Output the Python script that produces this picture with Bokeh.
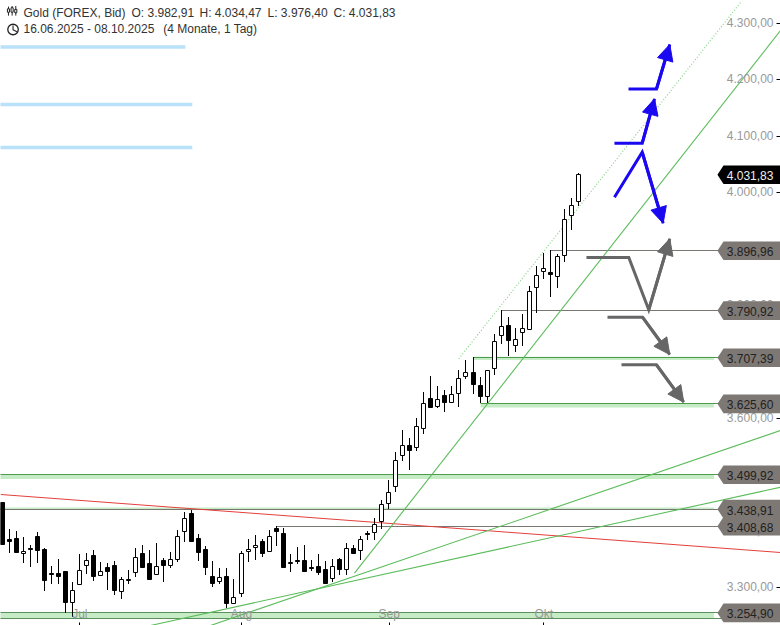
import math
from bokeh.plotting import figure
from bokeh.models import LinearAxis, FixedTicker, Range1d, Arrow, NormalHead, ColumnDataSource
from bokeh.core.properties import value
from bokeh.embed import file_html
from bokeh.resources import INLINE

FONT = "Liberation Sans"

opens = [3451,3385,3387,3359,3369,3390,3367,3325,3325,3328,3272,3303,3337,3357,3319,3335,3339,3291,3312,3324,3360,3343,3322,3348,3338,3347,3397,3431,3387,
         3367,3320,3308,3320,3270,3288,3362,3370,3382,3362,3405,3396,3340,3348,3348,3335,3337,3332,3315,3350,3331,3370,3364,3396,3395,3416,
         3447,3477,3532,3551,3546,3581,3635,3619,3640,3626,3643,3672,3681,3658,3636,3686,
         3745,3764,3727,3750,3755,3831,3858,3858,3849,3886,3957,3982.91]
highs = [3451,3403,3399,3389,3375,3398,3369,3337,3350,3328,3309,3358,3360,3366,3344,3343,3346,3318,3330,3369,3375,3366,3378,3351,3362,3401,3433,3437,3394,
         3373,3346,3334,3334,3314,3364,3385,3392,3385,3401,3408,3405,3359,3371,3375,3348,3359,3346,3350,3351,3378,3375,3390,3399,3422,3454,
         3489,3539,3578,3564,3599,3645,3674,3656,3649,3656,3684,3702,3707,3672,3684,3749,
         3791,3778,3760,3784,3833,3870,3893,3897,3890,3970,3989,4034.47]
lows = [3374,3361,3361,3343,3335,3343,3292,3306,3306,3253,3247,3303,3323,3311,3319,3295,3285,3278,3306,3318,3334,3313,3322,3308,3333,3345,3379,3379,3346,
        3321,3300,3306,3262,3270,3282,3344,3348,3353,3362,3373,3334,3327,3341,3327,3328,3321,3305,3309,3321,3321,3359,3348,3383,3383,3403,
        3439,3468,3523,3507,3541,3572,3617,3617,3610,3626,3620,3668,3642,3627,3626,3676,
        3731,3710,3717,3727,3755,3785,3846,3814,3830,3877,3933,3976.40]
closes = [3374,3380,3361,3364,3366,3363,3311,3322,3317,3272,3294,3331,3347,3318,3328,3327,3292,3314,3315,3354,3334,3313,3338,3338,3349,3390,3422,3379,3361,
          3334,3305,3317,3270,3282,3361,3367,3374,3359,3390,3398,3334,3344,3346,3327,3332,3325,3305,3337,3330,3370,3359,3385,3393,3411,3447,
          3468,3526,3551,3541,3585,3627,3617,3634,3626,3642,3670,3681,3658,3636,3684,3737,
          3762,3736,3739,3759,3824,3853,3865,3854,3886,3952,3977,4031.83]

y_ticks = [3300, 3400, 3500, 3600, 3700, 3800, 3900, 4000, 4100, 4200, 4300]
y_tick_labels = ["3.300,00","3.400,00","3.500,00","3.600,00","3.700,00","3.800,00","3.900,00","4.000,00","4.100,00","4.200,00","4.300,00"]
x_ticks = [11, 34, 55, 77]
x_tick_labels = ["Jul", "Aug", "Sep", "Okt"]

level_values = [3896.96, 3790.92, 3707.39, 3625.60, 3499.92, 3438.91, 3408.68, 3254.90]
level_labels = ["3.896,96","3.790,92","3.707,39","3.625,60","3.499,92","3.438,91","3.408,68","3.254,90"]
level_starts = [78, 71, 67, 68, -2, -2, 39, -2]
level_colors = ["#7a7672","#7a7672","#4e9a4e","#4e9a4e","#4e9a4e","#7a7672","#7a7672","#5f8f5f"]
band_tops = [None, None, 3709, 3626.2, 3499.9, 3441.8, None, 3254.9]
band_bottoms = [None, None, 3703.4, 3619.1, 3492.4, 3438.9, None, 3244.5]

red_x, red_y = [-0.28, 110.7], [3464.9, 3362.0]
green_lines_x = [[50.07, 110.67], [29.59, 110.67], [21.05, 110.67]]
green_lines_y = [[3325.4, 4287.6], [3232.6, 3578.4], [3232.6, 3477.8]]
dotted_x, dotted_y = [64.9, 104.98], [3705.5, 4337.2]

zone_values = [4258.3, 4156.4, 4080.1]
zone_ends = [26, 27, 27]

blue_paths = [([89.05, 93.03, 94.92], [4183.9, 4183.9, 4262.8]),
              ([87.05, 91.0, 92.75], [4087.8, 4087.8, 4166.5]),
              ([87.05, 91.0, 93.98], [3992.0, 4071.8, 3945.9])]
gray_paths = [([83.07, 89.09, 91.93, 94.92], [3885.1, 3885.1, 3792.4, 3918.3]),
              ([86.06, 91.04, 94.92], [3779.3, 3779.3, 3713.1]),
              ([88.05, 93.03, 96.91], [3694.9, 3694.9, 3628.5])]

last_value, last_label = 4031.83, "4.031,83"

header = [("Gold (FOREX, Bid)", 2.99, 4318.6), ("O: 3.982,91", 18.35, 4318.6), ("H: 4.034,47", 28.02, 4318.6),
          ("L: 3.976,40", 37.7, 4318.6), ("C: 4.031,83", 47.08, 4318.6),
          ("16.06.2025 - 08.10.2025", 2.99, 4289.4), ("(4 Monate, 1 Tag)", 22.86, 4289.4)]

x0, x1 = -0.2845, 110.67
y0, y1 = 3232.6, 4340.8
W, H = 780, 625

# helpers that snap plotted values to whole screen pixels, so thin lines stay crisp
def px_x(x): return (x - x0) / (x1 - x0) * W
def from_px_x(px): return x0 + px / W * (x1 - x0)
def px_y(v): return (y1 - v) / (y1 - y0) * H
def from_px_y(px): return y1 - px / H * (y1 - y0)
def snap_x(x): return from_px_x(math.floor(px_x(x)))
def snap_y(v): return from_px_y(round(px_y(v)))

p = figure(width=W, height=H, x_range=Range1d(x0, x1), y_range=Range1d(y0, y1),
           output_backend="svg", toolbar_location=None, min_border=0,
           x_axis_type=None, y_axis_type=None, outline_line_color=None,
           background_fill_color="white", border_fill_color="white")
p.grid.visible = False

for t, b, s in zip(band_tops, band_bottoms, level_starts):
    if t is not None:
        p.quad(left=s, right=101.2, top=t, bottom=b, fill_color="#c6ecc6", line_color=None)
for v, e in zip(zone_values, zone_ends):
    p.line([-2, e], [v, v], line_color="#b9e1f9", line_width=3.5)
for v, s, c in zip(level_values, level_starts, level_colors):
    sv = snap_y(v)
    p.line([s, x1], [sv, sv], line_color=c, line_width=1)
sb = snap_y(band_bottoms[-1])
p.line([-2, x1], [sb, sb], line_color=level_colors[-1], line_width=1)
p.line(red_x, red_y, line_color="#e2403c", line_width=1)
for xs, ys in zip(green_lines_x, green_lines_y):
    p.line(xs, ys, line_color="#5cbc5c", line_width=1.1)
p.line(dotted_x, dotted_y, line_color="#86d286", line_width=1.2, line_dash="1 2")

n = list(range(len(opens)))
xs_snapped = [snap_x(i) for i in n]
tops, bots, his, los = [], [], [], []
for o, h, l, c in zip(opens, highs, lows, closes):
    rt = round(px_y(max(o, c)))
    rb = max(round(px_y(min(o, c))) - 1, rt + 1)
    tops.append(from_px_y(rt))
    bots.append(from_px_y(rb))
    his.append(from_px_y(round(px_y(h)) - 0.5))
    los.append(from_px_y(round(px_y(l)) - 0.5))
fills = ["white" if c >= o else "black" for o, c in zip(opens, closes)]
src = ColumnDataSource(dict(x=xs_snapped, h=his, l=los, t=tops, b=bots, f=fills))
p.segment("x", "h", "x", "l", source=src, line_color="black", line_width=1)
p.vbar(x="x", top="t", bottom="b", width=4 / W * (x1 - x0), source=src, fill_color="f", line_color="black", line_width=1)

def draw_path(xs, ys, col):
    p.line(xs, ys, line_color=col, line_width=3, line_join="miter")
    head = NormalHead(size=16, fill_color=col, line_color=col, line_width=1)
    p.add_layout(Arrow(end=head, x_start=xs[-2], y_start=ys[-2], x_end=xs[-1], y_end=ys[-1],
                       line_color=col, line_width=3))
for xs, ys in blue_paths:
    draw_path(xs, ys, "#1a08f0")
for xs, ys in gray_paths:
    draw_path(xs, ys, "#666666")

# tick marks on the true scale; the labels use a scale one pixel higher
one_px = (y1 - y0) / H
p.extra_y_ranges = {"labels": Range1d(y0 - one_px, y1 - one_px)}
y_axis_marks = LinearAxis(fixed_location=x1, ticker=FixedTicker(ticks=y_ticks),
                          axis_line_color=None, major_tick_in=0, major_tick_out=4, minor_tick_line_color=None,
                          major_tick_line_color="black", major_label_text_font_size="0px",
                          major_label_text_color=None)
p.add_layout(y_axis_marks, "left")
y_axis = LinearAxis(fixed_location=x1, y_range_name="labels", ticker=FixedTicker(ticks=y_ticks),
                    major_label_overrides=dict(zip(y_ticks, y_tick_labels)),
                    axis_line_color=None, major_tick_in=0, major_tick_out=4, minor_tick_line_color=None,
                    major_tick_line_color=None, major_label_text_font=FONT, major_label_text_font_size="12px",
                    major_label_text_color="#999999", major_label_standoff=3)
p.add_layout(y_axis, "left")
x_axis = LinearAxis(fixed_location=y0, ticker=FixedTicker(ticks=x_ticks),
                    major_label_overrides=dict(zip(x_ticks, x_tick_labels)),
                    axis_line_color=None, major_tick_in=0, major_tick_out=3, minor_tick_line_color=None,
                    major_tick_line_color="black", major_label_text_font=FONT, major_label_text_font_size="12px",
                    major_label_text_color="#999999", major_label_standoff=2)
p.add_layout(x_axis, "above")

tip, shoulder = 101.7, 102.56
hh = 16.5
def tag(v, label, fill, txt):
    p.patch([tip, shoulder, x1, x1, shoulder], [v, v + hh, v + hh, v - hh, v - hh],
            fill_color=fill, line_color=None, level="overlay")
    p.text([110.67 - 1.0], [v], text=[label], text_align="right", text_baseline="middle", y_offset=1,
           text_font=value(FONT), text_font_size="12px", text_color=txt, level="overlay")
for v, lab in zip(level_values, level_labels):
    tag(v, lab, "#7d7874", "#222222")
tag(last_value, last_label, "#000000", "#eeeeee")

for t, x, y in header:
    p.text([x], [y], text=[t], text_align="left", text_baseline="middle",
           text_font=value(FONT), text_font_size="12px", text_color="#333333", level="overlay")

icon_x, icon_hi, icon_lo, icon_top, icon_bot = [0.85, 1.37, 1.89], [4330, 4331, 4331], [4314, 4314, 4314], [4326, 4328, 4325], [4320, 4320, 4319]
p.segment(icon_x, icon_hi, icon_x, icon_lo, line_color="#222222", line_width=1, level="overlay")
p.vbar(icon_x, 0.3, icon_top, icon_bot, fill_color="white", line_color="#222222", line_width=1, level="overlay")
p.scatter([1.5], [4289.4], marker="circle", size=10.5, fill_color=None, line_color="#222222", line_width=1.3, level="overlay")
p.line([1.5, 1.5, 2.05], [4296.5, 4289, 4285.5], line_color="#222222", line_width=1.1, level="overlay")

open("out.html", "w").write(file_html(p, INLINE))
